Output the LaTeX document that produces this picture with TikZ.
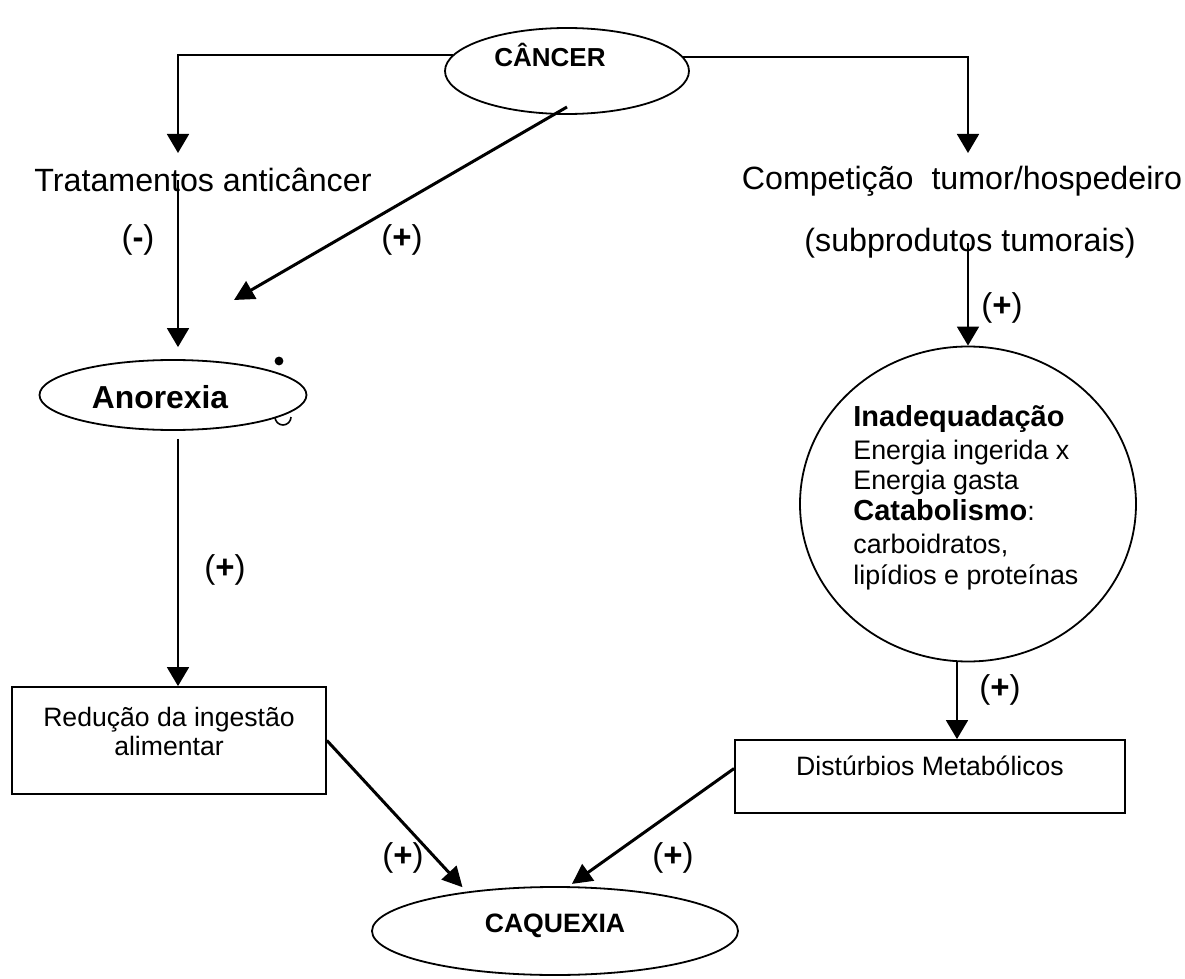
\documentclass[tikz,border=0pt]{standalone}
\usepackage{fontspec}
\setmainfont{Liberation Sans}
\usepackage{tikz}
\usetikzlibrary{shapes.geometric,positioning,arrows.meta}

\tikzset{
  elipse/.style={draw, ellipse, inner sep=0pt, line width=0.9pt},
  caixa/.style={draw, rectangle, inner sep=0pt, line width=0.9pt, align=center,
    font=\fontsize{13.3}{14.5}\selectfont},
  seta/.style={line width=0.9pt, -{Triangle[width=11pt,length=9.5pt]}},
  setagrossa/.style={line width=1.5pt, -{Triangle[width=10pt,length=10pt]}},
  sinal/.style={font=\fontsize{16.5}{18}\selectfont},
  texto/.style={font=\fontsize{16.1}{19}\selectfont},
  titulo/.style={font=\fontsize{13}{15}\selectfont\bfseries},
}

\begin{document}
\begin{tikzpicture}[x=0.5pt,y=-0.5pt]
\useasboundingbox (0,0) rectangle (1185,979);

% ellipses and circle
\node[elipse, minimum width=122pt, minimum height=43pt] (cancer) at (567,71) {};
\node[titulo] (cancertxt) at (550,55) {CÂNCER};
\node[elipse, minimum width=133.5pt, minimum height=35pt] (anorexia) at (173,395) {};
\node[font=\fontsize{15.9}{18}\selectfont\bfseries] (anorexiatxt) at (160,397) {Anorexia};
\node[elipse, minimum width=168pt, minimum height=157.5pt] (circulo) at (968,504) {};
\node[elipse, titulo, font=\fontsize{13.3}{15}\selectfont\bfseries, text depth=8pt,
  minimum width=183pt, minimum height=44pt] (caquexia) at (555,931) {CAQUEXIA};

% texts
\node[texto] (trat) at (203,180) {Tratamentos anticâncer};
\node[texto] (compet) at (962,181) {Competição\ \ tumor/hospedeiro};
\node[texto] (subprod) at (970,243) {(subprodutos tumorais)};
\node[anchor=north west, align=left, inner sep=0pt, font=\fontsize{13.4}{15.3}\selectfont]
  (circtxt) at (853,405) {{\fontsize{14.5}{16}\selectfont\bfseries Inadequadação}\\[1pt]
  Energia ingerida x\\ Energia gasta\\
  {\fontsize{14.5}{16}\selectfont\bfseries Catabolismo}:\\[1.5pt]
  carboidratos,\\ lipídios e proteínas};

% boxes
\node[caixa, minimum width=157pt, minimum height=53.5pt] (reducao) at (169,740.5)
  {Redução da ingestão\\ alimentar\\[-5.5pt]};
\node[caixa, minimum width=195pt, minimum height=36.5pt, text depth=11pt] (disturbios) at (930,776.5)
  {Distúrbios Metabólicos};

% free ends
\coordinate (entradaTrat) at (178,153);
\coordinate (entradaComp) at (968,153);
\coordinate (pontaDiag) at (234,300);

% connectors from CANCER
\draw[seta] (cancer.172.5) -| (entradaTrat);
\draw[seta] (cancer.7.5) -| (entradaComp);
\draw[setagrossa] ([yshift=-18pt]cancer.center) -- (pontaDiag);

% left column
\draw[seta, shorten >=6pt] (trat.center -| entradaTrat) -- (anorexia.north -| entradaTrat);
\draw[seta] ([yshift=-4pt]anorexia.south -| entradaTrat) -- (reducao.north -| entradaTrat);
\draw[setagrossa, shorten >=3pt] (reducao.east) -- (caquexia.156);

% right column
\draw[seta] (subprod.center -| entradaComp) -- (circulo.north -| entradaComp);
\draw[seta] ([xshift=-5.5pt]circulo.south) -- ([xshift=-5.5pt]circulo.south |- disturbios.north);
\draw[setagrossa, shorten >=2pt] ([yshift=4pt]disturbios.west) -- (caquexia.73);

% signs
\node[sinal] (menos) at (138,240) {(\textbf{-})};
\foreach \x/\y/\nome in {402/240/maisA, 225/570/maisB, 1002/308/maisC,
    1000/690/maisD, 403/858/maisE, 673/858/maisF}
  \node[sinal] (\nome) at (\x,\y) {(\textbf{+})};

% stray marks
\fill (279,361) circle (2.2pt);
\draw[line width=0.8pt] (275,417) arc (180:0:8);
\end{tikzpicture}
\end{document}
